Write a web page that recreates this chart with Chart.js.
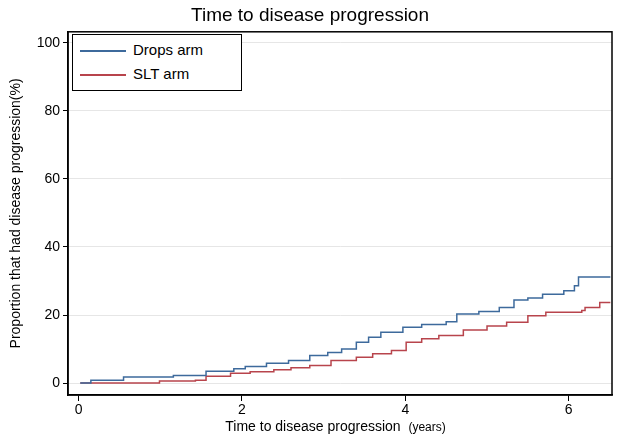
<!DOCTYPE html>
<html><head><meta charset="utf-8">
<script src="https://cdn.jsdelivr.net/npm/chart.js@4"></script>
<style>
body{margin:0;background:#fff;font-family:Arial,"Liberation Sans",sans-serif}
#wrap{position:relative;width:631px;height:441px}
#legend{position:absolute;left:72px;top:34px;width:170px;height:57px;border:1px solid #000;background:#fff;font-size:15px;box-sizing:border-box}
.row{position:absolute;left:7px;height:20px;line-height:20px}
.row i{display:inline-block;width:46px;height:2px;vertical-align:middle;margin-right:7px}
#xt{position:absolute;left:0;width:631px;top:418px;text-align:center;font-size:14px;padding-left:40px;box-sizing:border-box}
#xt small{font-size:12px}
</style></head><body>
<div id="wrap"><canvas id="c" width="631" height="441"></canvas>
<div id="legend"><div class="row" style="top:5px"><i style="background:#3d6a9c"></i>Drops arm</div><div class="row" style="top:29px"><i style="background:#b8444c"></i>SLT arm</div></div>
<div id="xt">Time to disease progression &nbsp;<small>(years)</small></div>
</div>
<script>
const dropsX = [0.02,0.15,0.55,1.16,1.56,1.9,2.04,2.3,2.57,2.83,3.05,3.22,3.4,3.55,3.7,3.97,4.2,4.5,4.63,4.9,5.15,5.33,5.5,5.68,5.94,6.07,6.12,6.51];
const dropsY = [0,0.8,1.8,2.2,3.5,4.2,4.9,5.8,6.6,8.1,9.0,10,12,13.5,14.9,16.4,17.2,18,20.3,21,22.2,24.4,25,26.1,27.1,28.6,31.2,31.2];
const sltX = [0.02,0.86,0.99,1.43,1.56,1.86,2.1,2.39,2.6,2.83,3.09,3.4,3.6,3.83,4.01,4.2,4.41,4.71,5.0,5.24,5.5,5.72,6.16,6.2,6.38,6.51];
const sltY = [0,0,0.6,0.8,2,2.9,3.3,3.9,4.5,5.2,6.6,7.6,8.6,9.6,12,13,14,15.6,16.8,17.9,19.8,20.8,21.3,22.2,23.7,23.7];
const xTicks = [0,2,4,6];
const yTicks = [0,20,40,60,80,100];
const pts = (xs, ys) => xs.map((x, i) => ({x, y: ys[i]}));
new Chart(document.getElementById('c'), {
  type: 'line',
  data: { datasets: [
    { label: 'Drops arm', data: pts(dropsX, dropsY), borderColor: '#3d6a9c', borderWidth: 1.5, pointRadius: 0, stepped: true },
    { label: 'SLT arm', data: pts(sltX, sltY), borderColor: '#b8444c', borderWidth: 1.5, pointRadius: 0, stepped: true }
  ]},
  options: {
    responsive: false, animation: false,
    layout: { padding: { top: 0, right: 19, left: 8, bottom: 0 } },
    plugins: {
      legend: { display: false }, tooltip: { enabled: false },
      title: { display: true, text: 'Time to disease progression', color: '#000', font: { size: 19, weight: 'normal', family: 'Arial, Liberation Sans' }, padding: { top: 4, bottom: 5 } }
    },
    scales: {
      x: { type: 'linear', min: -0.13, max: 6.53,
        afterBuildTicks: s => { s.ticks = xTicks.map(v => ({value: v})); },
        afterFit: s => { s.height = 46; },
        grid: { drawOnChartArea: false, color: '#000', tickLength: 6 }, border: { color: '#000', width: 1.5 },
        ticks: { color: '#000', font: { size: 14 }, padding: 1 } },
      y: { min: -3.5, max: 103.2,
        afterBuildTicks: s => { s.ticks = yTicks.map(v => ({value: v})); },
        afterFit: s => { s.width = 60; },
        grid: { color: '#e6e6e6', tickColor: '#000', tickLength: 5 }, border: { color: '#000', width: 1.5 },
        ticks: { color: '#000', font: { size: 14 }, padding: 3 },
        title: { display: true, text: 'Proportion that had disease progression(%)', color: '#000', font: { size: 14 }, padding: 0 } }
    }
  },
  plugins: [{ id: 'frame', afterDraw(c) { const a = c.chartArea, g = c.ctx; g.save(); g.strokeStyle = '#000'; g.lineWidth = 1.5; g.strokeRect(a.left, a.top, a.right - a.left, a.bottom - a.top); g.restore(); } }]
});
</script></body></html>
